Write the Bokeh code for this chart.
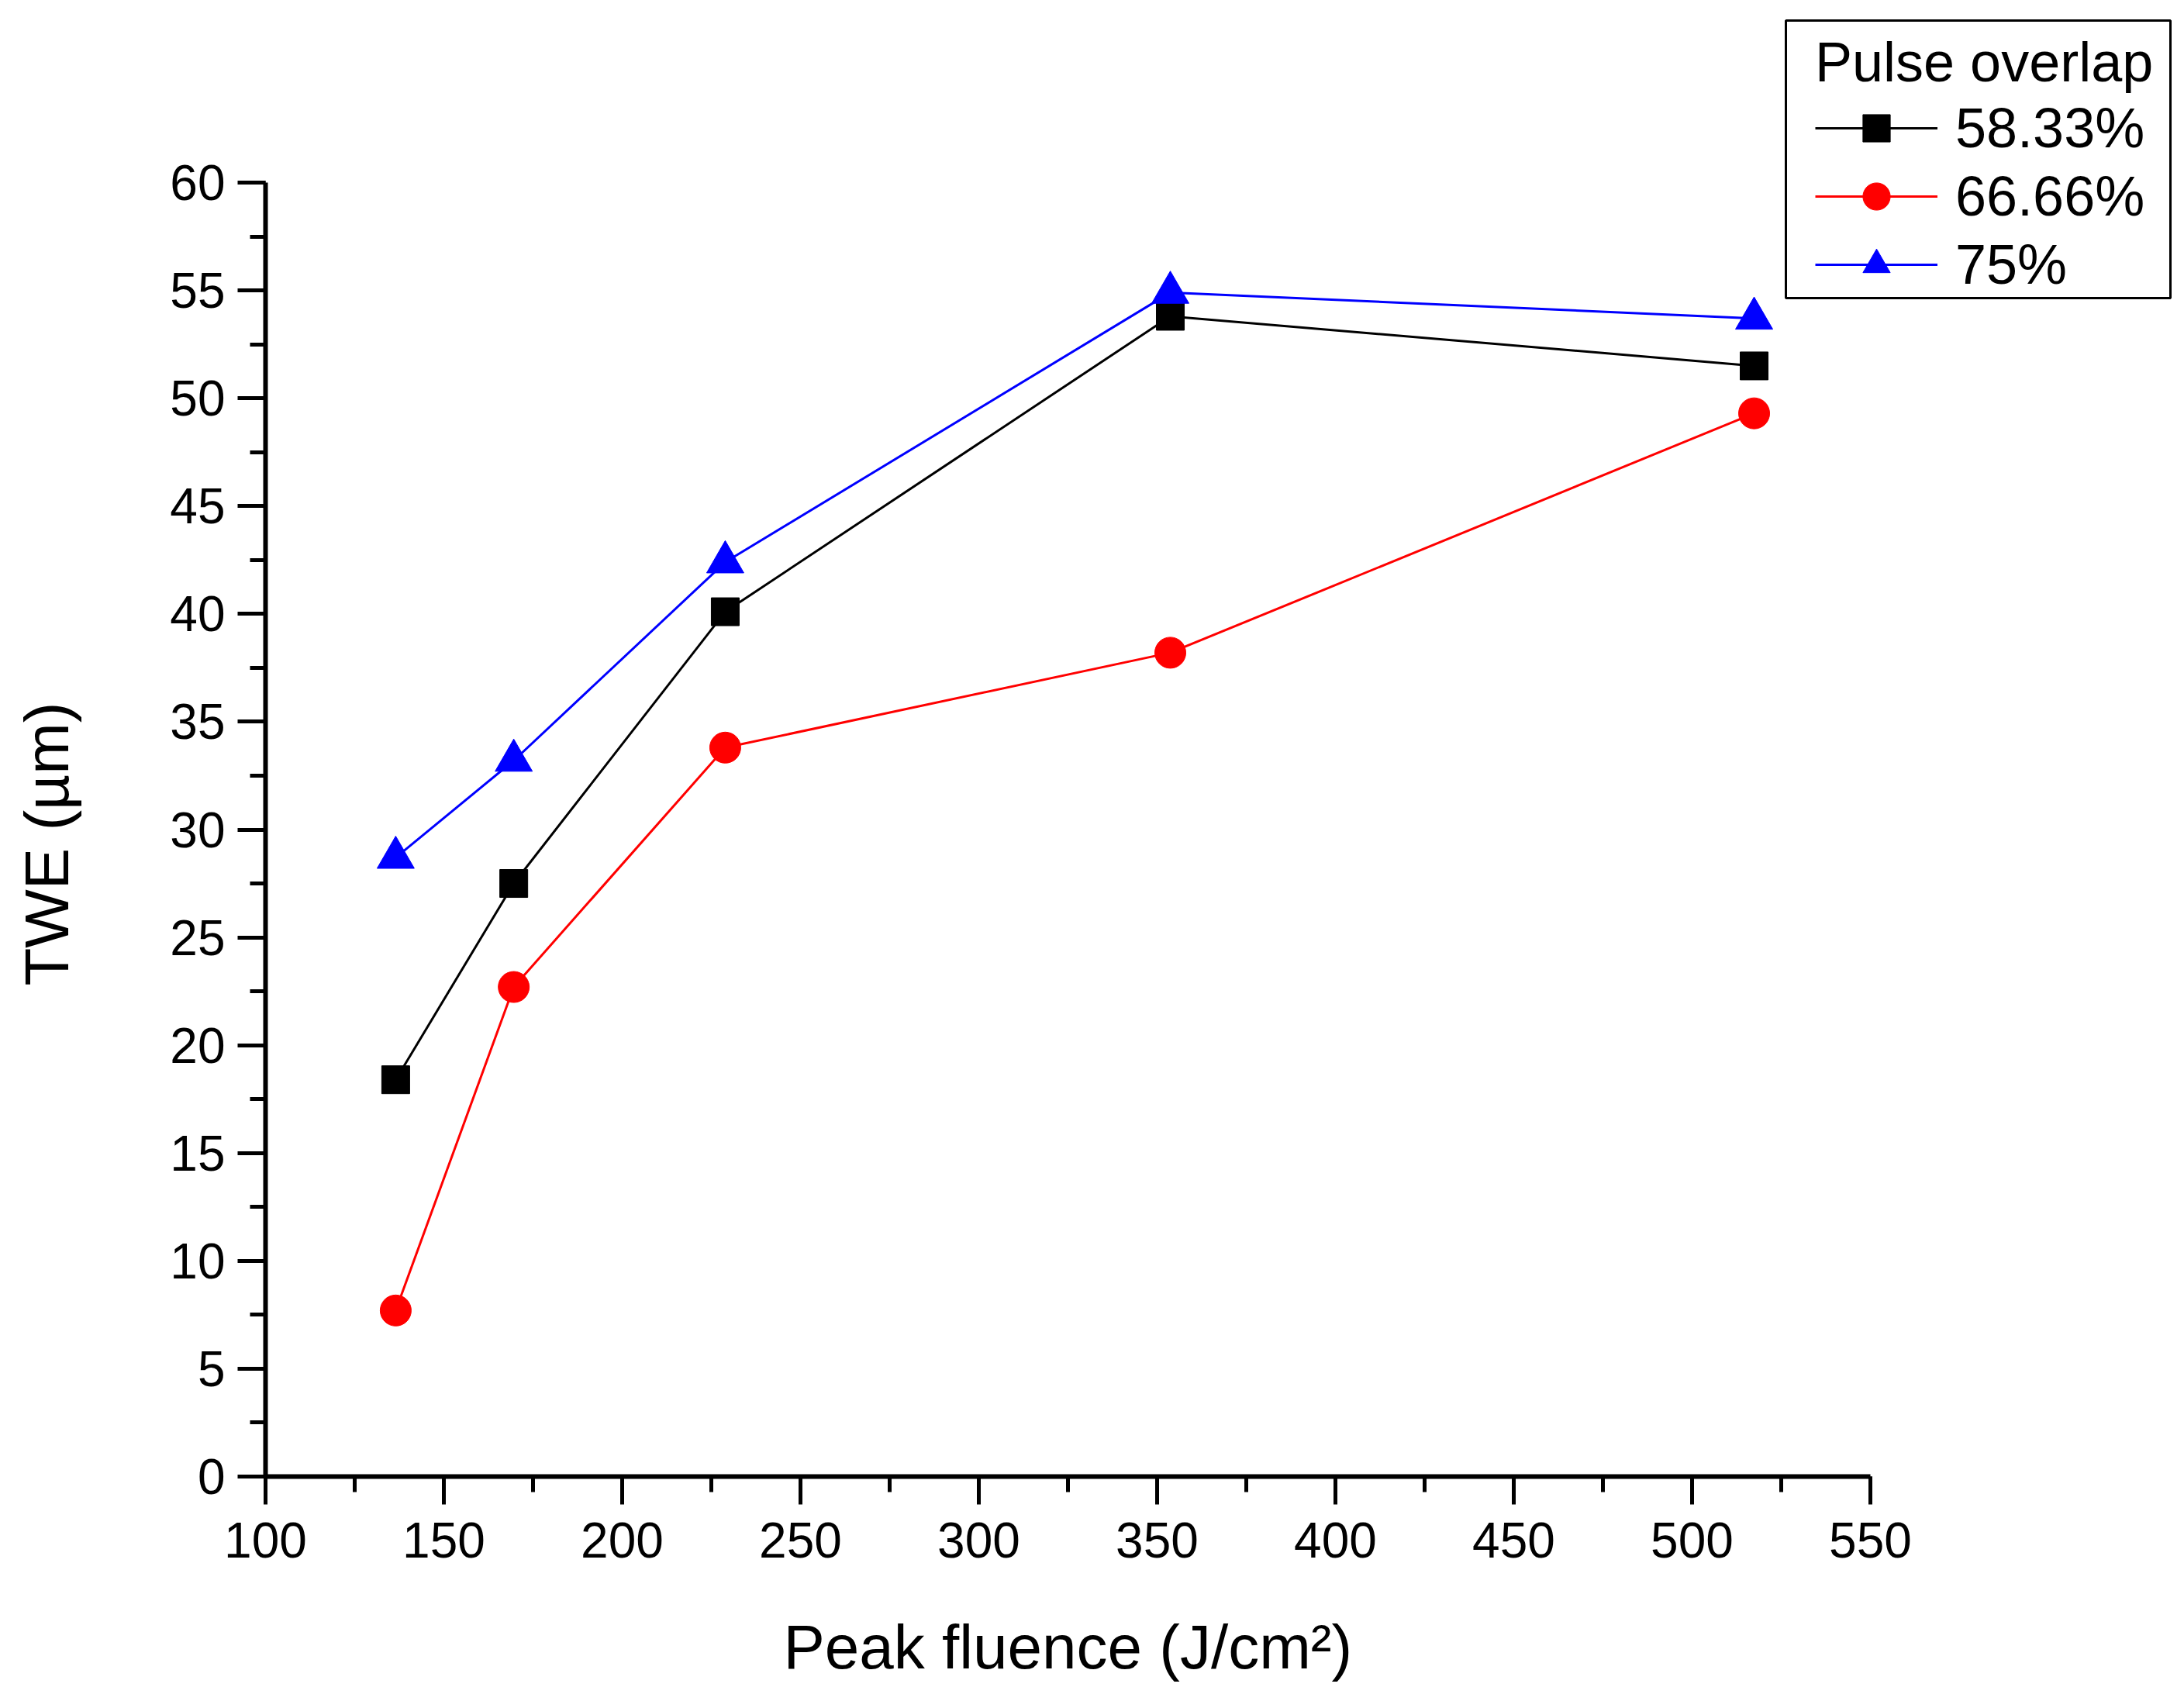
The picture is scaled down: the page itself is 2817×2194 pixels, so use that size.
from bokeh.plotting import figure
from bokeh.models import (Range1d, SingleIntervalTicker, Legend, LegendItem, Title,
                          BoxAnnotation)
from bokeh.embed import file_html
from bokeh.resources import INLINE

# data
fluence = [136.5, 169.6, 228.9, 353.7, 517.4]
twe_5833 = [18.4, 27.5, 40.1, 53.8, 51.5]
twe_6666 = [7.7, 22.7, 33.8, 38.2, 49.3]
twe_75 = [28.7, 33.2, 42.4, 54.9, 53.7]
series_names = ['58.33%', '66.66%', '75%']

FONT = "Liberation Sans"

# axes of the original run 100..550 and 0..60 over 2070 x 1669 px;
# the frame is stretched right and up so the legend box is not clipped
W, H = 2801, 2178
left, top, bottom, right = 342, 5, 274, 0
axis_w, axis_h = 2070, 1669
x_end = 100 + (W - left - right) * 450 / axis_w
y_end = (H - top - bottom) * 60 / axis_h
frame_bottom = H - bottom
tick_out = 36


def px_to_x(px):
    return 100 + (px - left) * 450 / axis_w


def px_to_y(py):
    return (frame_bottom - py) * 60 / axis_h


p = figure(width=W, height=H,
           x_range=Range1d(100, x_end), y_range=Range1d(0, y_end),
           output_backend="svg", toolbar_location=None,
           min_border_left=left, min_border_right=right,
           min_border_top=top, min_border_bottom=bottom)

p.outline_line_color = None
p.xgrid.visible = False
p.ygrid.visible = False

p.xaxis.ticker = SingleIntervalTicker(interval=50, num_minor_ticks=2)
p.yaxis.ticker = SingleIntervalTicker(interval=5, num_minor_ticks=2)
# x axis line runs on to the end of the y tick at 0, like the original
p.xaxis.bounds = (px_to_x(left - tick_out), 550)
p.yaxis.bounds = (0, 60)

for ax in (p.xaxis[0], p.yaxis[0]):
    ax.axis_line_width = 6
    ax.axis_line_color = 'black'
    ax.major_tick_line_width = 5
    ax.minor_tick_line_width = 5
    ax.major_tick_line_color = 'black'
    ax.minor_tick_line_color = 'black'
    ax.major_tick_in = 0
    ax.major_tick_out = tick_out
    ax.minor_tick_in = 0
    ax.minor_tick_out = 20
    ax.major_label_text_font = FONT
    ax.major_label_text_font_size = '64px'
    ax.major_label_text_color = 'black'

p.xaxis.major_label_standoff = 23
p.yaxis.major_label_standoff = 16

# axis titles as side-panel titles, shifted so they sit under the real axes
x_title = Title(text='Peak fluence (J/cm²)', align='left', offset=668,
                vertical_align='top', standoff=0,
                padding=dict(left=0, right=0, top=68, bottom=0),
                text_font=FONT, text_font_size='80px',
                text_font_style='normal', text_color='black')
p.add_layout(x_title, 'below')
y_title = Title(text='TWE (µm)', align='left', offset=633,
                vertical_align='bottom', standoff=0,
                padding=dict(left=0, right=0, top=0, bottom=112),
                text_font=FONT, text_font_size='80px',
                text_font_style='normal', text_color='black')
p.add_layout(y_title, 'left')

l1 = p.line(fluence, twe_5833, line_color='black', line_width=3)
s1 = p.scatter(fluence, twe_5833, marker='square', size=36, color='black')
l2 = p.line(fluence, twe_6666, line_color='#ff0000', line_width=3)
s2 = p.scatter(fluence, twe_6666, marker='circle', size=40, color='#ff0000')
l3 = p.line(fluence, twe_75, line_color='#0000ff', line_width=3)
s3 = p.scatter(fluence, twe_75, marker='triangle', size=48, color='#0000ff')

# legend frame drawn separately so the inner margins can differ
p.add_layout(BoxAnnotation(left=px_to_x(2303), right=px_to_x(2799),
                           top=px_to_y(26), bottom=px_to_y(384),
                           fill_color=None, line_color='black',
                           line_alpha=1, line_width=3))

legend = Legend(items=[LegendItem(label=series_names[0], renderers=[l1, s1]),
                       LegendItem(label=series_names[1], renderers=[l2, s2]),
                       LegendItem(label=series_names[2], renderers=[l3, s3])],
                location=(1989, 1509))
legend.title = 'Pulse overlap'
legend.title_text_font = FONT
legend.title_text_font_size = '72px'
legend.title_text_font_style = 'normal'
legend.title_text_color = 'black'
legend.title_standoff = 0
legend.label_text_font = FONT
legend.label_text_font_size = '72px'
legend.label_text_color = 'black'
legend.padding = 10
legend.spacing = 0
legend.glyph_width = 158
legend.glyph_height = 88
legend.label_height = 88
legend.label_standoff = 23
legend.border_line_alpha = 0
legend.background_fill_alpha = 0
p.add_layout(legend)

open("out.html", "w").write(file_html(p, INLINE))
